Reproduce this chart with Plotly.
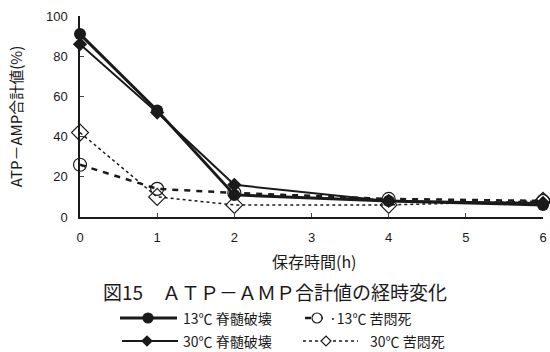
import plotly.graph_objects as go

hours = [0, 1, 2, 4, 6]
s13_spinal = [91, 53, 11, 8, 6]
s30_spinal = [86, 52, 16, 8, 7]
s13_agony = [26, 14, 12, 9, 8]
s30_agony = [42, 10, 6, 6, 8]
names = ["13℃ 脊髄破壊", "·13℃ 苦悶死", "30℃ 脊髄破壊", "30℃ 苦悶死"]
x_ticks = [0, 1, 2, 3, 4, 5, 6]
y_ticks = [0, 20, 40, 60, 80, 100]

JP = "Noto Sans CJK JP"
NUM = "Liberation Sans"
INK = "#1a1a1a"

# plot area in pixels (for converting legend/annotation positions)
L, R, T, B = 80, 543, 16, 217


def px(x):
    return (x - L) / (R - L)


def py(y):
    return (B - y) / (B - T)


styles = [
    dict(line=dict(color=INK, width=3), marker=dict(symbol="circle", size=12, color=INK)),
    dict(line=dict(color=INK, width=2.5, dash="6px,6px"),
         marker=dict(symbol="circle-open", size=13, color=INK, line=dict(width=1.2))),
    dict(line=dict(color=INK, width=2), marker=dict(symbol="diamond", size=11, color=INK)),
    dict(line=dict(color=INK, width=1.5, dash="dot"),
         marker=dict(symbol="diamond-open", size=13, color=INK, line=dict(width=1.2))),
]
series = [s13_spinal, s13_agony, s30_spinal, s30_agony]

fig = go.Figure()
for name, ys, st in zip(names, series, styles):
    fig.add_trace(go.Scatter(x=hours, y=ys, name=name, mode="lines+markers",
                             line=st["line"], marker=st["marker"], cliponaxis=False,
                             showlegend=False))

fig.update_layout(
    width=550, height=352,
    margin=dict(l=L, r=550 - R, t=T, b=352 - B, autoexpand=False),
    paper_bgcolor="white", plot_bgcolor="white",
    font=dict(family=JP, color=INK),
    showlegend=False,
    xaxis=dict(range=[0, 6], tickvals=x_ticks, ticks="inside", ticklen=4,
               showline=True, linecolor=INK, linewidth=1.5, showgrid=False, zeroline=False,
               ticklabelstandoff=8, automargin=False, ticklabeloverflow="allow",
               tickfont=dict(family=NUM, size=13, color=INK)),
    yaxis=dict(range=[0, 100], tickvals=y_ticks, ticks="inside", ticklen=4,
               showline=True, linecolor=INK, linewidth=1.5, showgrid=False, zeroline=False,
               ticklabelstandoff=8, automargin=False, ticklabeloverflow="allow",
               tickfont=dict(family=NUM, size=13, color=INK),
               title=dict(text="ATP－AMP合計値(%)", font=dict(family=JP, size=15, color=INK),
                          standoff=20)),
)

fig.add_annotation(text="保存時間(h)", xref="paper", yref="paper", x=px(314), y=py(261),
                   xanchor="center", yanchor="middle",
                   showarrow=False, font=dict(family=JP, size=16, color=INK))
fig.add_annotation(text="図15　ＡＴＰ－ＡＭＰ合計値の経時変化", xref="paper", yref="paper",
                   x=px(275), y=py(291), xanchor="center", yanchor="middle", showarrow=False,
                   font=dict(family=JP, size=19, color=INK))

# legend drawn manually: (line x0, x1, marker x, y, text x)
legend_pos = [
    (120, 177, 148, 318, 181),
    (305, 328, 317, 318, 327),
    (122, 178, 147, 341, 181),
    (303, 358, 326, 341, 368),
]
for (x0, x1, xm, yy, xt), name, st in zip(legend_pos, names, styles):
    ln = st["line"]
    fig.add_shape(type="line", xref="paper", yref="paper", x0=px(x0), x1=px(x1),
                  y0=py(yy), y1=py(yy),
                  line=dict(color=INK, width=ln["width"], dash=ln.get("dash", "solid")))
    mk = st["marker"]
    sym = mk["symbol"]
    r = 5
    filled = not sym.endswith("open")
    fill = INK if filled else "white"
    if sym.startswith("circle"):
        fig.add_shape(type="circle", xref="paper", yref="paper",
                      x0=px(xm - r), x1=px(xm + r), y0=py(yy + r), y1=py(yy - r),
                      fillcolor=fill, line=dict(color=INK, width=1.2))
    else:
        path = "M {} {} L {} {} L {} {} L {} {} Z".format(
            px(xm - r), py(yy), px(xm), py(yy - r), px(xm + r), py(yy), px(xm), py(yy + r))
        fig.add_shape(type="path", xref="paper", yref="paper", path=path,
                      fillcolor=fill, line=dict(color=INK, width=1.2))
    fig.add_annotation(text=name, xref="paper", yref="paper", x=px(xt), y=py(yy),
                       xanchor="left", yanchor="middle", showarrow=False,
                       font=dict(family=JP, size=14, color=INK))

fig.write_html("out.html", config={"displayModeBar": False},
               post_script="document.body.style.margin='0';document.body.style.overflow='hidden';")
